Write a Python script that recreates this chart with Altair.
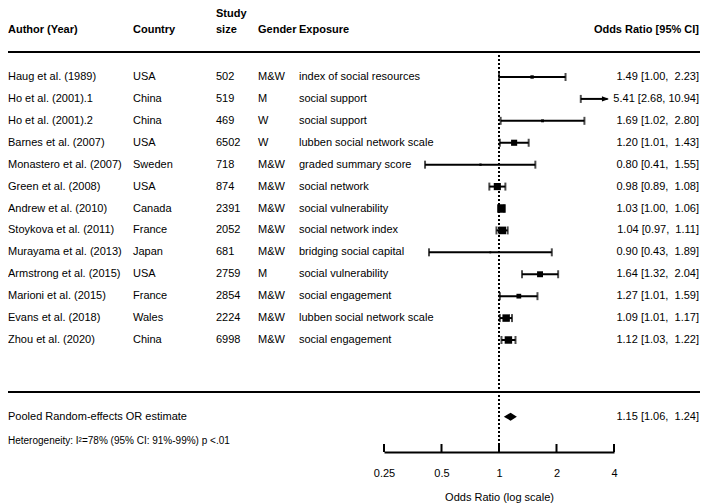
import altair as alt
import pandas as pd

# ---------------- data ----------------
authors = ["Haug et al. (1989)", "Ho et al. (2001).1", "Ho et al. (2001).2",
           "Barnes et al. (2007)", "Monastero et al. (2007)", "Green et al. (2008)",
           "Andrew et al. (2010)", "Stoykova et al. (2011)", "Murayama et al. (2013)",
           "Armstrong et al. (2015)", "Marioni et al. (2015)", "Evans et al. (2018)",
           "Zhou et al. (2020)"]
countries = ["USA", "China", "China", "USA", "Sweden", "USA", "Canada", "France",
             "Japan", "USA", "France", "Wales", "China"]
study_sizes = [502, 519, 469, 6502, 718, 874, 2391, 2052, 681, 2759, 2854, 2224, 6998]
genders = ["M&W", "M", "W", "W", "M&W", "M&W", "M&W", "M&W", "M&W", "M", "M&W", "M&W", "M&W"]
exposures = ["index of social resources", "social support", "social support",
             "lubben social network scale", "graded summary score", "social network",
             "social vulnerability", "social network index", "bridging social capital",
             "social vulnerability", "social engagement", "lubben social network scale",
             "social engagement"]
or_est = [1.49, 5.41, 1.69, 1.20, 0.80, 0.98, 1.03, 1.04, 0.90, 1.64, 1.27, 1.09, 1.12]
ci_low = [1.00, 2.68, 1.02, 1.01, 0.41, 0.89, 1.00, 0.97, 0.43, 1.32, 1.01, 1.01, 1.03]
ci_high = [2.23, 10.94, 2.80, 1.43, 1.55, 1.08, 1.06, 1.11, 1.89, 2.04, 1.59, 1.17, 1.22]
weights = [4.0, 3.5, 3.4, 7.2, 2.7, 8.4, 10.0, 9.0, 2.2, 7.0, 5.6, 8.8, 8.8]

pooled_label = "Pooled Random-effects OR estimate"
pooled_est, pooled_low, pooled_high = 1.15, 1.06, 1.24
heterogeneity = "Heterogeneity: I\u00b2=78% (95% CI: 91%-99%) p <.01"

axis_ticks = [0.25, 0.5, 1, 2, 4]
axis_title = "Odds Ratio (log scale)"
col_headers = ["Author (Year)", "Country", "size", "Gender", "Exposure", "Odds Ratio [95% CI]"]

XMIN, XMAX = 0.25, 4
ARROW_END = 3.7   # display clip for intervals running past the axis
POOLED_ROW = 16.5

# ---------------- tables ----------------
def fmt(e, l, h):
    s = f"{e:.2f} [{l:.2f}, {h:5.2f}]"
    return s.replace(" ", "\u00a0")

n = len(authors)
df = pd.DataFrame({
    "row": list(range(1, n + 1)),
    "author": authors, "country": countries, "size": [str(s) for s in study_sizes],
    "gender": genders, "exposure": exposures,
    "est": or_est, "lo": ci_low, "hi": ci_high, "w": weights,
})
df["lo_c"] = df["lo"].clip(lower=XMIN)
df["hi_c"] = df["hi"].where(df["hi"] <= XMAX, ARROW_END)
df["label"] = [fmt(e, l, h) for e, l, h in zip(or_est, ci_low, ci_high)]

caps = pd.concat([
    df[["row", "lo"]].rename(columns={"lo": "x"}),
    df[["row", "hi"]].rename(columns={"hi": "x"}),
])
caps = caps[(caps["x"] >= XMIN) & (caps["x"] <= XMAX)]
arrows = df[df["hi"] > XMAX][["row"]].assign(x=ARROW_END)
squares = df[(df["est"] >= XMIN) & (df["est"] <= XMAX)]

h = 0.18
diamond = pd.DataFrame({
    "x": [pooled_low, pooled_est, pooled_high],
    "y": [POOLED_ROW, POOLED_ROW - h, POOLED_ROW],
    "y2": [POOLED_ROW, POOLED_ROW + h, POOLED_ROW],
})
pooled_df = pd.DataFrame({"row": [POOLED_ROW], "name": [pooled_label],
                          "label": [fmt(pooled_est, pooled_low, pooled_high)]})
ticks_df = pd.DataFrame({"x": axis_ticks})

FONT = "Liberation Sans"
xs = alt.Scale(type="log", base=2, domain=[XMIN, XMAX], range=[376, 606], nice=False)
ys = alt.Scale(domain=[1, 13], range=[69, 332], zero=False, nice=False)
x_axis = alt.Axis(values=axis_ticks, format="~g", title=axis_title, ticks=False,
                  grid=False, domainColor="black", domainWidth=2, labelColor="black",
                  labelFont=FONT, labelFontSize=11, labelPadding=15,
                  titleFont=FONT, titleFontSize=11, titleFontWeight="normal",
                  titleColor="black", titlePadding=13, labelFlush=False)
X = lambda f: alt.X(f, type="quantitative", scale=xs, axis=x_axis)
Y = lambda f: alt.Y(f, type="quantitative", scale=ys, axis=None)

base = alt.Chart(df)

def textcol(field, xpos, align="left"):
    return base.mark_text(align=align, baseline="middle", font=FONT, fontSize=11,
                          color="black").encode(x=alt.value(xpos), y=Y("row"),
                                                text=alt.Text(field, type="nominal"))

layers = []
# axis-carrying layer first (tick marks drawn upward from the axis line)
layers.append(alt.Chart(ticks_df).mark_rule(color="black", strokeWidth=2).encode(
    x=X("x"), y=alt.value(436), y2=alt.value(444)))

layers += [textcol("author", 0), textcol("country", 125), textcol("size", 208),
           textcol("gender", 250), textcol("exposure", 291), textcol("label", 691, "right")]

# headers
hdr_x = [0, 125, 208, 250, 291, 691]
hdr_align = ["left", "left", "left", "left", "left", "right"]
for t, xp, al in zip(col_headers, hdr_x, hdr_align):
    layers.append(alt.Chart(pd.DataFrame({"t": [t]})).mark_text(
        align=al, baseline="middle", font=FONT, fontSize=11, fontWeight="bold", color="black"
    ).encode(x=alt.value(xp), y=alt.value(22), text="t:N"))
layers.append(alt.Chart(pd.DataFrame({"t": ["Study"]})).mark_text(
    align="left", baseline="middle", font=FONT, fontSize=11, fontWeight="bold", color="black"
).encode(x=alt.value(208), y=alt.value(6), text="t:N"))

# separator lines
for yy in [44, 384]:
    layers.append(alt.Chart(pd.DataFrame({"a": [0]})).mark_rule(color="black", strokeWidth=2).encode(
        x=alt.value(-8), x2=alt.value(700), y=alt.value(yy)))

# reference dotted line at OR = 1
layers.append(alt.Chart(pd.DataFrame({"x": [1]})).mark_rule(
    color="black", strokeWidth=2, strokeDash=[2, 2]).encode(
    x=X("x"), y=alt.value(47), y2=alt.value(444)))

# CI lines
layers.append(base.mark_rule(color="black", strokeWidth=2).encode(
    x=X("lo_c"), x2="hi_c:Q", y=Y("row")))
# caps
layers.append(alt.Chart(caps).mark_tick(orient="vertical", color="black", size=8,
                                        thickness=2).encode(x=X("x"), y=Y("row")))
# arrows
layers.append(alt.Chart(arrows).mark_point(
    shape="M0.4,0L-1.6,-0.75L-1.6,0.75Z", filled=True, color="black", opacity=1, size=49,
    strokeWidth=0).encode(x=X("x"), y=Y("row")))
# squares
layers.append(alt.Chart(squares).mark_square(color="black", opacity=1).encode(
    x=X("est"), y=Y("row"),
    size=alt.Size("w:Q", scale=alt.Scale(type="pow", exponent=2, domain=[0, 10], range=[0, 72]),
                  legend=None)))

# pooled
layers.append(alt.Chart(diamond).mark_area(color="black", orient="vertical", opacity=1).encode(
    x=X("x"), y=Y("y"), y2="y2:Q"))
layers.append(alt.Chart(pooled_df).mark_text(align="left", baseline="middle", font=FONT,
                                             fontSize=11, color="black").encode(
    x=alt.value(0), y=Y("row"), text="name:N"))
layers.append(alt.Chart(pooled_df).mark_text(align="right", baseline="middle", font=FONT,
                                             fontSize=11, color="black").encode(
    x=alt.value(691), y=Y("row"), text="label:N"))
layers.append(alt.Chart(pd.DataFrame({"t": [heterogeneity]})).mark_text(
    align="left", baseline="middle", font=FONT, fontSize=10, color="black").encode(
    x=alt.value(0), y=alt.value(433), text="t:N"))

chart = alt.layer(*layers).properties(
    width=692, height=444,
    autosize=alt.AutoSizeParams(type="none"),
    padding={"left": 0, "top": 0, "right": 0, "bottom": 52},
).configure_view(stroke=None)

chart.save("out.html", embed_options={"renderer": "svg", "actions": False})
